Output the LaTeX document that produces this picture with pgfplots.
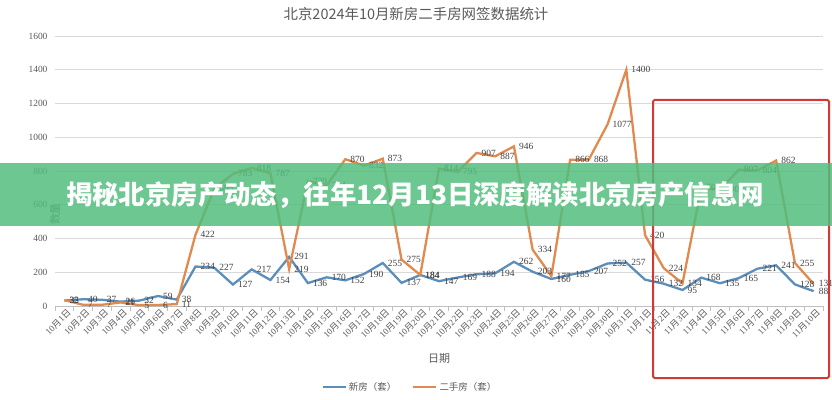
\documentclass[border=0pt]{standalone}
\usepackage{fontspec}
\setmainfont{Liberation Serif}
\newfontfamily\cjk{Noto Sans CJK SC}
\usepackage{pgfplots}
\usepackage{pgfplotstable}
\pgfplotsset{compat=1.18}
\definecolor{bl}{HTML}{5B8EBB}
\definecolor{orx}{HTML}{E08A4F}
\definecolor{txt}{HTML}{595959}
\definecolor{lab}{HTML}{404040}
\definecolor{bgreen}{HTML}{52BD7C}
\definecolor{redbox}{HTML}{CC3B36}
\newcommand\md[2]{#1{\cjk 月}#2{\cjk 日}}
\pgfplotstableread{
x new old
0 32 35
1 40 7
2 37 7
3 26 21
4 32 5
5 59 6
6 38 11
7 234 422
8 227 695
9 127 783
10 217 818
11 154 787
12 291 219
13 136 739
14 170 714
15 152 870
16 190 832
17 255 873
18 137 275
19 184 184
20 147 814
21 169 795
22 188 907
23 194 887
24 262 946
25 203 334
26 160 177
27 185 866
28 207 868
29 252 1077
30 257 1400
31 156 420
32 132 224
33 95 134
34 168 700
35 135 690
36 165 807
37 221 804
38 241 862
39 128 255
40 88 131
}\datatab
\begin{document}
\begin{tikzpicture}
\begin{axis}[
  at={(0,0)}, anchor=south west,
  scale only axis, width=768bp, height=270bp,
  xmin=-0.5, xmax=40.5, ymin=0, ymax=1600,
  clip=false,
  /pgf/number format/1000 sep={},
  /pgf/number format/assume math mode=true,
  ytick={0,200,...,1600},
  ymajorgrids, grid style={draw=black!15, line width=0.6bp},
  axis x line*=bottom, axis y line*=left,
  y axis line style={draw=none},
  x axis line style={draw=black!25, line width=0.6bp},
  major tick length=0pt,
  minor tick length=5bp,
  tick align=outside,
  xtick={0,...,40},
  minor xtick={-0.5,0.5,...,40.5},
  minor x tick style={draw=black!25, line width=0.6bp},
  xticklabels={\md{10}{1},\md{10}{2},\md{10}{3},\md{10}{4},\md{10}{5},\md{10}{6},\md{10}{7},\md{10}{8},\md{10}{9},\md{10}{10},\md{10}{11},\md{10}{12},\md{10}{13},\md{10}{14},\md{10}{15},\md{10}{16},\md{10}{17},\md{10}{18},\md{10}{19},\md{10}{20},\md{10}{21},\md{10}{22},\md{10}{23},\md{10}{24},\md{10}{25},\md{10}{26},\md{10}{27},\md{10}{28},\md{10}{29},\md{10}{30},\md{10}{31},\md{11}{1},\md{11}{2},\md{11}{3},\md{11}{4},\md{11}{5},\md{11}{6},\md{11}{7},\md{11}{8},\md{11}{9},\md{11}{10}},
  x tick label style={rotate=45, anchor=east, font=\fontsize{9}{10}\selectfont, text=txt, inner sep=1bp, yshift=-7bp, xshift=1bp},
  y tick label style={font=\fontsize{9.5}{10}\selectfont, text=txt, xshift=-4bp},
  xlabel={\cjk 日期}, xlabel style={font=\fontsize{11}{12}\selectfont, text=txt, at={(axis description cs:0.5,0)}, anchor=center, yshift=-52bp},
  ylabel={\cjk 数量}, ylabel style={font=\fontsize{11}{12}\selectfont, text=txt, at={(axis description cs:0,0.5)}, anchor=center, xshift=-43bp},
  legend columns=2,
  legend style={at={(axis description cs:0.4622,-0.30)}, anchor=center, draw=none, fill=none, font=\fontsize{9.5}{10}\selectfont\cjk, text=txt, /tikz/every even column/.append style={column sep=14bp}},
  legend image code/.code={\draw[#1, line width=2.3bp] (0bp,0bp) -- (23bp,0bp);},
  nodes near coords style={anchor=west, xshift=3bp, font=\fontsize{9.5}{10}\selectfont, text=lab, inner sep=1bp},
]
\addplot[bl, line width=2.3bp, no markers, nodes near coords] table[x=x, y=new] {\datatab};
\addlegendentry{新房（套）}
\addplot[orx, line width=2.3bp, no markers, nodes near coords] table[x=x, y=old] {\datatab};
\addlegendentry{二手房（套）}
\end{axis}
\node[font=\fontsize{14.5}{16}\selectfont\cjk, text=txt] at (361bp,292bp) {北京2024年10月新房二手房网签数据统计};
\draw[redbox, line width=2bp, rounded corners=1.5bp] (598bp,-72bp) rectangle (774bp,206bp);
\fill[bgreen, fill opacity=0.85] (-55bp,80bp) rectangle (777bp,143bp);
\node[font=\fontsize{26.5}{28}\selectfont\cjk\bfseries, text=white] at (360bp,111bp) {揭秘北京房产动态，往年12月13日深度解读北京房产信息网};
\pgfresetboundingbox
\path (-55bp,-94bp) rectangle (777bp,306bp);
\end{tikzpicture}
\end{document}
